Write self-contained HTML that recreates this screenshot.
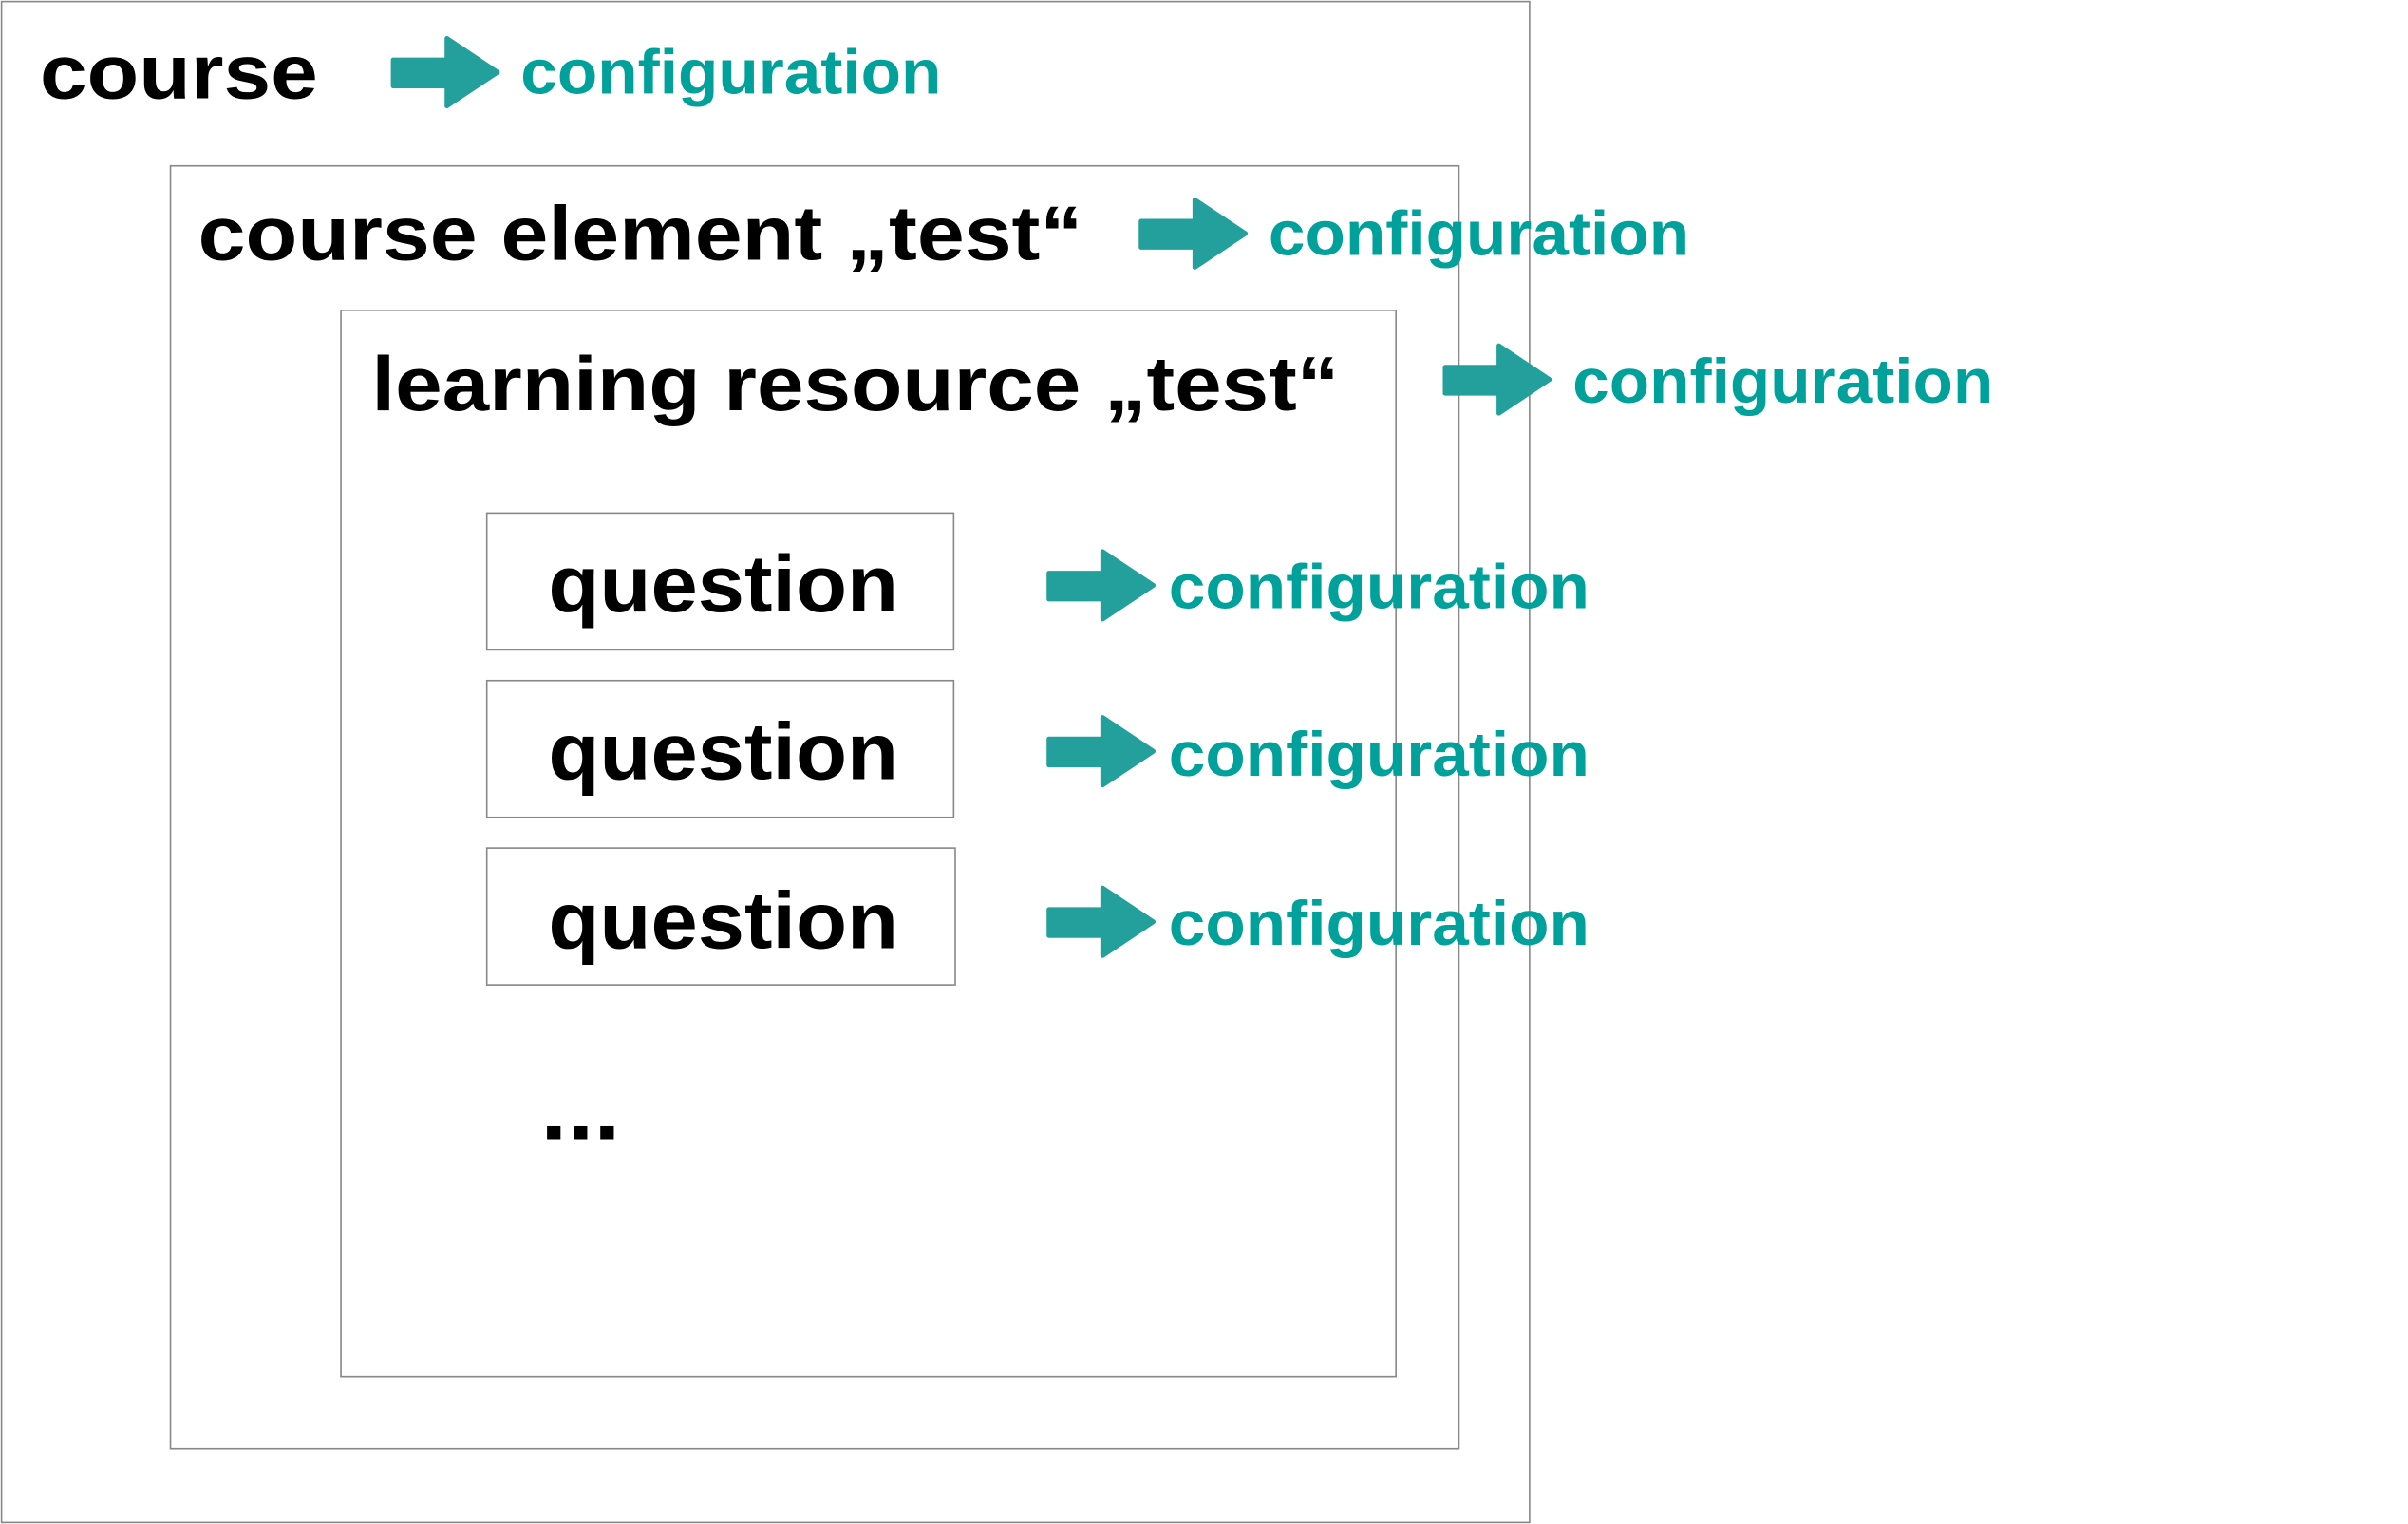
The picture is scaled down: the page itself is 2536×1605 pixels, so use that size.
<!DOCTYPE html>
<html><head><meta charset="utf-8"><style>
html,body{margin:0;padding:0;background:#fff;}
svg{display:block}
text{font-family:"Liberation Sans",Arial,sans-serif;font-weight:bold}
.lbl{fill:#000}
.cfg{fill:#00a19a}
.box{fill:none;stroke:#888;stroke-width:1}
.arr{fill:#23a09c;stroke:#23a09c;stroke-width:3;stroke-linejoin:round}
</style></head><body>
<svg width="2536" height="1605" viewBox="0 0 1568 992" preserveAspectRatio="none">
<rect class="box" x="1" y="1" width="995" height="990"/>
<rect class="box" x="111" y="108" width="839" height="835"/>
<rect class="box" x="222" y="202" width="687" height="694"/>
<rect class="box" x="317" y="334" width="304" height="89"/>
<rect class="box" x="317" y="443" width="304" height="89"/>
<rect class="box" x="317" y="552" width="305" height="89"/>

<text class="lbl" x="26" y="64" font-size="50" textLength="181" lengthAdjust="spacingAndGlyphs">course</text>
<text class="lbl" x="129" y="169" font-size="50" textLength="576" lengthAdjust="spacingAndGlyphs">course element „test“</text>
<text class="lbl" x="242" y="267" font-size="50" textLength="630" lengthAdjust="spacingAndGlyphs">learning resource „test“</text>
<text class="lbl" x="357" y="398" font-size="52" textLength="228" lengthAdjust="spacingAndGlyphs">question</text>
<text class="lbl" x="357" y="507" font-size="52" textLength="228" lengthAdjust="spacingAndGlyphs">question</text>
<text class="lbl" x="357" y="617" font-size="52" textLength="228" lengthAdjust="spacingAndGlyphs">question</text>
<text class="lbl" x="352" y="742" font-size="60" textLength="52" lengthAdjust="spacingAndGlyphs">...</text>

<g><path class="arr" transform="translate(256,25)" d="M0,14 H35 V0 L68,22 L35,44 V31 H0 Z"/></g>
<g><path class="arr" transform="translate(743,130)" d="M0,14 H35 V0 L68,22 L35,44 V31 H0 Z"/></g>
<g><path class="arr" transform="translate(941,225)" d="M0,14 H35 V0 L68,22 L35,44 V31 H0 Z"/></g>
<g><path class="arr" transform="translate(683,359)" d="M0,14 H35 V0 L68,22 L35,44 V31 H0 Z"/></g>
<g><path class="arr" transform="translate(683,467)" d="M0,14 H35 V0 L68,22 L35,44 V31 H0 Z"/></g>
<g><path class="arr" transform="translate(683,578)" d="M0,14 H35 V0 L68,22 L35,44 V31 H0 Z"/></g>

<text class="cfg" x="339" y="61" font-size="41" textLength="274" lengthAdjust="spacingAndGlyphs">configuration</text>
<text class="cfg" x="826" y="166" font-size="41" textLength="274" lengthAdjust="spacingAndGlyphs">configuration</text>
<text class="cfg" x="1024" y="262" font-size="41" textLength="274" lengthAdjust="spacingAndGlyphs">configuration</text>
<text class="cfg" x="761" y="396" font-size="41" textLength="274" lengthAdjust="spacingAndGlyphs">configuration</text>
<text class="cfg" x="761" y="505" font-size="41" textLength="274" lengthAdjust="spacingAndGlyphs">configuration</text>
<text class="cfg" x="761" y="615" font-size="41" textLength="274" lengthAdjust="spacingAndGlyphs">configuration</text>
</svg>
</body></html>
